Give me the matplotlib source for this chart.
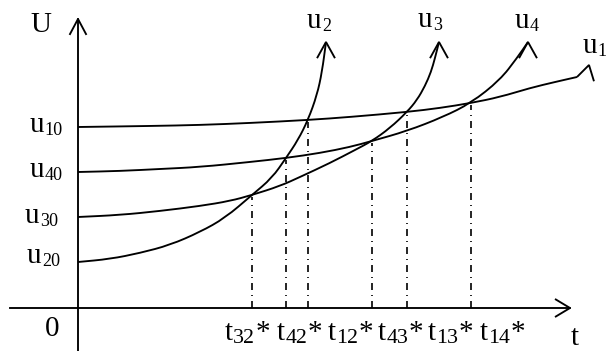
import numpy as np
import matplotlib
matplotlib.use("Agg")
import matplotlib.pyplot as plt
from matplotlib.path import Path
from matplotlib.patches import PathPatch

plt.rcParams['font.family'] = ['Liberation Serif', 'DejaVu Serif']

# initial levels u_i0 at t = 0
level_subs = ['10', '40', '30', '20']
level_values = [181, 136, 91, 46]

# voltage curves u_i(t), read as (t, u) pairs
u1_t = [0, 72, 122, 172, 230, 272, 329, 362, 393, 422, 452, 477, 499]
u1_u = [181, 182, 183, 185, 188, 191, 196, 200, 205, 211, 220, 226, 231]
u2_t = [0, 32, 62, 92, 122, 147, 174, 194, 208, 220, 230, 239, 244, 248]
u2_u = [46, 49, 55, 63, 76, 90, 113, 130, 150, 168, 188, 213, 236, 266]
u3_t = [0, 42, 82, 122, 152, 174, 202, 222, 252, 277, 294, 312, 329, 339, 347, 353, 357, 361]
u3_u = [91, 93, 97, 102, 107, 113, 122, 131, 145, 158, 167, 180, 196, 208, 222, 236, 250, 266]
u4_t = [0, 42, 82, 122, 172, 208, 242, 272, 294, 329, 365, 393, 422, 439, 450]
u4_u = [136, 137, 139, 141, 146, 150, 155, 161, 167, 177, 191, 205, 228, 250, 266]

# crossing instants t_ij* and the level where the curves meet
cross_subs = ['32', '42', '12', '43', '13', '14']
cross_t = [174, 208, 230, 294, 329, 393]
cross_u = [113, 150, 188, 167, 196, 205]

LW = 1.35
FS = 21


def smooth_path(xs, ys):
    """Quadratic B-spline through the midpoints of the polyline."""
    pts = np.column_stack([xs, ys]).astype(float)
    verts = [pts[0], (pts[0] + pts[1]) / 2]
    codes = [Path.MOVETO, Path.LINETO]
    for i in range(1, len(pts) - 1):
        verts += [pts[i], (pts[i] + pts[i + 1]) / 2]
        codes += [Path.CURVE3, Path.CURVE3]
    verts.append(pts[-1])
    codes.append(Path.LINETO)
    return Path(verts, codes)


def chevron(ax, x, y, angle, size=18, spread=30):
    """Open arrow head with its tip at (x, y), pointing along angle (deg)."""
    back = np.radians(angle + 180)
    s = np.radians(spread)
    p1 = (x + size * np.cos(back - s), y + size * np.sin(back - s))
    p2 = (x + size * np.cos(back + s), y + size * np.sin(back + s))
    ax.plot([p1[0], x, p2[0]], [p1[1], y, p2[1]], color='black', lw=LW,
            solid_joinstyle='miter', solid_capstyle='butt')


def sub_label(ax, x, y, main, sub, tail='', sub_scale=0.62, drop=2.0):
    """Letter with a subscript (and optional trailing mark) on baseline y."""
    t = ax.text(x, y, main, fontsize=FS, ha='left', va='baseline')
    s = ax.annotate(sub, xy=(1, y), xycoords=(t, 'data'),
                    xytext=(0.2, -drop), textcoords='offset points',
                    fontsize=FS * sub_scale, ha='left', va='baseline')
    if tail:
        ax.annotate(tail, xy=(1, y), xycoords=(s, 'data'),
                    xytext=(0.3, 0), textcoords='offset points',
                    fontsize=FS, ha='left', va='baseline')


fig = plt.figure(figsize=(6.12, 3.51), dpi=100)
ax = fig.add_axes([0, 0, 1, 1])
ax.set_xlim(-78, 534)
ax.set_ylim(-43, 308)
ax.axis('off')

# axes
ax.plot([0, 0], [-43, 289], color='black', lw=LW)
ax.plot([-68, 492], [0, 0], color='black', lw=LW)
chevron(ax, 0, 289, 90, size=18, spread=28)
chevron(ax, 492, 0, 0, size=17.5, spread=31)

# curves
for ts, us in [(u1_t, u1_u), (u2_t, u2_u), (u3_t, u3_u), (u4_t, u4_u)]:
    ax.add_patch(PathPatch(smooth_path(ts, us), fill=False, lw=LW,
                           edgecolor='black', capstyle='butt'))
for ts in (u2_t, u3_t, u4_t):
    chevron(ax, ts[-1], 266, 90, size=18.5, spread=29)
chevron(ax, 511, 243, 76, size=17, spread=31)

# projections of the crossings onto the time axis
for t, u in zip(cross_t, cross_u):
    ax.plot([t, t], [0, u - 2], color='black', lw=1.2,
            linestyle=(0, (4.2, 3, 0.6, 3)))

# labels
ax.text(-48, 276, 'U', fontsize=FS, ha='left', va='baseline')
ax.text(-33, -28, '0', fontsize=FS, ha='left', va='baseline')
ax.text(493, -37, 't', fontsize=FS, ha='left', va='baseline')
for sub, val, x, base in zip(level_subs, level_values,
                             [-48, -48, -53, -51], [176, 131, 85, 45]):
    sub_label(ax, x, base, 'u', sub)
for sub, x, base in [('2', 229, 280), ('3', 340, 281), ('4', 437, 280),
                     ('1', 505, 255)]:
    sub_label(ax, x, base, 'u', sub)
for sub, x in zip(cross_subs, [147, 199, 250, 300, 350, 402]):
    sub_label(ax, x, -32, 't', sub, tail='*', sub_scale=0.75, drop=2.5)

fig.savefig('out.png', dpi=100)
